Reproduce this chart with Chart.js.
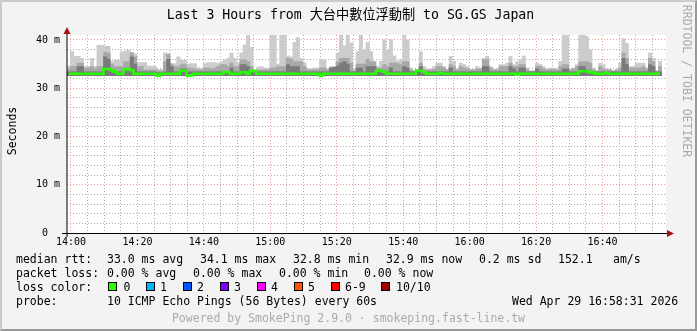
<!DOCTYPE html>
<html>
<head>
<meta charset="utf-8">
<script src="https://cdn.jsdelivr.net/npm/chart.js@4.4.1/dist/chart.umd.min.js"></script>
<style>
  body { margin: 0; background: #fff; }
  #frame {
    position: relative; width: 697px; height: 331px; overflow: hidden;
    background: #f3f3f3; box-sizing: border-box;
    border-top: 2px solid #cbcbcb; border-left: 2px solid #cbcbcb;
    border-right: 2px solid #999; border-bottom: 2px solid #999;
    font-family: "DejaVu Sans Mono", monospace; color: #000;
  }
  #chart { position: absolute; left: -2px; top: -2px; }
  .t { position: absolute; white-space: pre; font-size: 11.5px; line-height: 14px; }
  .box { position: absolute; width: 7px; height: 7px; border: 1px solid #000; }
</style>
</head>
<body>
<div id="frame">
  <canvas id="chart" width="697" height="331"></canvas>
  <div class="t" id="title" style="left:0;width:697px;text-align:center;top:5px;font-size:13.2px;line-height:16px;font-family:'DejaVu Sans Mono','Noto Sans CJK TC',monospace;">Last 3 Hours from 大台中數位浮動制 to SG.GS Japan</div>
  <div class="t" style="left:-22px;top:122px;width:64px;text-align:center;transform:rotate(-90deg);">Seconds</div>
  <div class="t" style="left:605px;top:72px;width:160px;text-align:center;transform:rotate(90deg);color:#aaa;">RRDTOOL / TOBI OETIKER</div>
  <div id="legend"></div>
</div>
<script>
// time axis: minutes after 14:00, one sample per minute
const firstMinute = -0.7;
const stepMinutes = 1;
const timeTickLabels = ['14:00', '14:20', '14:40', '15:00', '15:20', '15:40', '16:00', '16:20', '16:40'];
const yTickLabels = ['0  ', '10 m', '20 m', '30 m', '40 m'];

// ms, lowest ping of each minute
const pingFloor = 32.6;

// ms, top of the light smoke (slowest ping)
const smokeLight = [
  34.6, 37.6, 36.6, 36.6, 36.2, 34.5, 34.5, 36.2, 34.5, 38.9,
  38.9, 38.7, 38.7, 35.5, 35.8, 35.8, 37.5, 37.7, 37.9, 37.1,
  37.1, 35.3, 35.3, 35.3, 34.6, 34.6, 34.5, 33.9, 33.9, 37.3,
  37.2, 35.1, 35.1, 36.5, 35.8, 35.8, 35.0, 35.1, 35.1, 34.3,
  34.1, 35.1, 35.3, 35.3, 35.3, 35.2, 35.5, 35.9, 36.2, 37.3,
  36.2, 35.2, 37.3, 39.0, 41.2, 38.5, 33.8, 34.4, 34.5, 34.2,
  34.1, 41.2, 41.2, 35.0, 41.2, 41.2, 36.7, 36.5, 39.5, 40.5,
  36.2, 35.3, 34.0, 34.0, 34.2, 34.2, 36.0, 35.9, 34.0, 34.5,
  34.3, 37.3, 41.2, 38.8, 41.2, 39.4, 34.0, 37.6, 41.2, 38.0,
  39.5, 37.6, 35.6, 34.5, 35.6, 40.0, 38.0, 40.1, 36.7, 35.6,
  35.9, 41.2, 40.0, 34.2, 33.5, 33.5, 37.6, 34.5, 33.9, 34.0,
  34.5, 35.2, 35.2, 34.5, 33.9, 36.6, 35.6, 33.9, 35.2, 34.9,
  34.5, 33.9, 33.9, 34.5, 34.2, 36.2, 36.6, 34.5, 33.9, 34.0,
  34.9, 34.9, 35.2, 36.6, 34.9, 35.5, 36.0, 36.7, 34.2, 33.5,
  33.5, 35.2, 34.9, 34.5, 33.9, 34.2, 34.2, 33.9, 35.6, 41.2,
  41.2, 33.9, 34.2, 34.9, 41.2, 41.2, 40.7, 38.0, 34.2, 33.5,
  35.2, 34.9, 34.0, 33.9, 33.5, 33.9, 35.2, 40.3, 39.3, 34.5,
  34.5, 35.2, 35.2, 35.2, 34.2, 37.3, 36.2, 33.5, 35.6
];

// ms, top of the middle smoke band
const smokeMid = [
  33.9, 34.5, 34.5, 35.2, 35.2, 34.2, 34.2, 34.5, 34.0, 34.5,
  34.5, 37.5, 37.3, 35.0, 34.5, 34.5, 34.5, 35.5, 35.5, 37.4,
  36.5, 34.5, 34.5, 33.8, 33.8, 33.8, 33.8, 33.6, 33.6, 35.5,
  37.0, 35.0, 34.5, 34.5, 34.9, 34.9, 34.2, 34.2, 34.0, 33.9,
  33.8, 34.2, 34.2, 34.0, 34.2, 34.5, 34.9, 34.9, 34.5, 35.2,
  34.5, 34.5, 35.9, 35.9, 35.5, 34.5, 33.6, 33.8, 33.8, 33.8,
  33.8, 34.2, 34.2, 34.5, 34.5, 34.5, 36.2, 36.0, 35.5, 35.5,
  35.5, 34.5, 33.8, 33.8, 33.8, 33.8, 34.2, 34.2, 33.8, 34.2,
  34.2, 35.5, 36.2, 36.2, 36.2, 35.2, 33.6, 35.0, 35.0, 35.0,
  36.0, 35.5, 35.5, 34.2, 34.2, 34.9, 34.5, 35.2, 35.2, 35.2,
  34.9, 35.5, 35.5, 33.8, 33.6, 33.6, 35.2, 33.9, 33.8, 33.8,
  33.9, 34.5, 34.5, 34.2, 33.8, 34.9, 34.5, 33.8, 34.5, 34.2,
  34.0, 33.8, 33.8, 34.0, 34.0, 35.9, 35.9, 34.2, 33.8, 33.8,
  34.5, 34.5, 34.5, 35.2, 34.5, 34.5, 34.9, 34.9, 33.8, 33.6,
  33.6, 34.5, 34.5, 34.0, 33.8, 33.9, 33.9, 33.8, 34.5, 34.9,
  34.9, 33.8, 34.0, 34.5, 35.5, 35.5, 35.5, 35.2, 33.8, 33.6,
  34.5, 34.0, 33.8, 33.8, 33.6, 33.8, 34.2, 37.3, 36.2, 34.2,
  34.2, 34.2, 34.2, 34.5, 34.0, 36.2, 35.5, 33.6, 34.5
];

// ms, top of the dark smoke core
const smokeDark = [
  33.4, 33.4, 33.4, 34.5, 34.5, 33.4, 33.4, 33.4, 33.4, 33.4,
  33.4, 36.5, 36.0, 33.6, 33.4, 33.4, 33.4, 33.6, 33.6, 36.5,
  35.0, 33.4, 33.4, 33.4, 33.4, 33.4, 33.4, 33.3, 33.3, 33.4,
  36.0, 34.5, 33.4, 33.4, 34.0, 34.0, 33.4, 33.4, 33.4, 33.4,
  33.4, 33.4, 33.4, 33.4, 33.4, 33.4, 33.4, 33.5, 33.5, 34.2,
  33.4, 33.4, 34.9, 34.9, 34.5, 33.6, 33.4, 33.4, 33.4, 33.4,
  33.4, 33.4, 33.4, 33.4, 33.4, 33.4, 34.9, 34.5, 34.5, 34.5,
  33.4, 33.4, 33.4, 33.4, 33.4, 33.4, 33.4, 33.4, 33.4, 34.2,
  34.4, 34.6, 35.2, 35.5, 35.0, 33.4, 33.4, 34.2, 34.2, 33.4,
  34.5, 34.5, 34.5, 33.8, 33.8, 33.6, 33.4, 34.2, 33.4, 33.4,
  33.4, 34.5, 34.2, 33.4, 33.4, 33.8, 34.5, 33.5, 33.4, 33.4,
  33.4, 33.4, 33.5, 33.4, 33.4, 34.2, 33.4, 33.4, 33.4, 33.4,
  33.4, 33.4, 33.4, 33.4, 33.4, 34.5, 34.5, 33.4, 33.4, 33.4,
  33.4, 33.4, 33.4, 34.5, 34.0, 33.4, 34.2, 34.2, 33.4, 33.4,
  33.4, 34.0, 33.4, 33.4, 33.4, 33.4, 33.4, 33.4, 33.4, 34.0,
  34.0, 33.4, 33.4, 33.4, 34.5, 34.5, 33.8, 33.6, 33.4, 33.4,
  33.4, 33.4, 33.4, 33.4, 33.4, 33.4, 33.4, 36.2, 35.0, 33.4,
  33.4, 33.4, 33.4, 33.4, 33.4, 34.9, 34.5, 33.4, 33.4
];

// ms, median round trip of each minute
const medianRtt = [
  33.0, 33.0, 33.0, 33.0, 33.0, 33.0, 33.0, 33.0, 33.0, 33.0,
  33.0, 34.0, 34.0, 33.7, 33.4, 33.0, 33.0, 33.9, 34.0, 33.7,
  33.0, 33.0, 33.0, 33.0, 33.0, 33.0, 33.0, 32.6, 33.0, 33.0,
  33.0, 33.0, 33.0, 33.0, 33.6, 33.6, 32.6, 32.7, 33.0, 33.0,
  33.0, 33.0, 33.0, 33.0, 33.0, 33.0, 33.0, 33.3, 33.3, 33.0,
  33.0, 33.0, 33.3, 33.3, 33.0, 33.6, 33.5, 33.0, 33.0, 33.0,
  33.0, 33.0, 33.0, 33.0, 33.0, 33.0, 33.0, 33.0, 33.0, 33.0,
  33.0, 33.0, 33.0, 33.0, 33.0, 33.0, 32.6, 33.0, 33.0, 33.0,
  33.0, 33.0, 33.0, 33.0, 33.0, 33.0, 33.0, 33.0, 33.0, 33.0,
  33.0, 33.0, 33.0, 33.6, 33.6, 33.4, 33.0, 33.0, 33.0, 33.0,
  33.0, 33.0, 33.0, 33.0, 33.0, 33.6, 33.6, 33.3, 33.0, 33.0,
  33.0, 33.0, 33.2, 33.0, 33.0, 33.0, 33.0, 33.0, 33.0, 33.0,
  33.0, 33.0, 33.0, 33.0, 33.0, 33.0, 33.0, 33.0, 33.0, 33.0,
  33.0, 33.0, 33.0, 33.0, 33.0, 32.8, 33.0, 33.0, 33.0, 33.0,
  33.0, 33.0, 33.0, 33.0, 33.0, 33.0, 33.0, 33.0, 33.0, 33.0,
  33.0, 33.0, 33.0, 33.0, 33.5, 33.5, 33.5, 33.3, 33.2, 33.0,
  33.0, 33.0, 33.2, 33.0, 33.0, 33.0, 33.0, 33.0, 33.0, 33.0,
  33.0, 33.0, 33.0, 33.0, 33.0, 33.0, 33.0, 33.0, 33.0
];

const lossColors = ['#26ff00', '#00b8ff', '#0059ff', '#7e00ff', '#ff00ff', '#ff5500', '#ff0000', '#a10000'];
const lossLabels = ['0', '1', '2', '3', '4', '5', '6-9', '10/10'];

const majorGrid = 'rgba(235, 90, 90, 0.6)';
const minorGrid = 'rgba(140, 140, 140, 0.7)';
const tickFont = { family: "'DejaVu Sans Mono', monospace", size: 10 };

const sampleX = smokeLight.map((_, i) => firstMinute + i * stepMinutes);
const floatBars = tops => tops.map((v, i) => ({ x: sampleX[i], y: [pingFloor, v] }));

function smokeSet(label, tops, color, order) {
  return {
    type: 'bar', label, data: floatBars(tops), backgroundColor: color,
    borderWidth: 0, grouped: false, barPercentage: 1, categoryPercentage: 1, order
  };
}

// white plot area, axis lines and the red arrows
const rrdFrame = {
  id: 'rrdFrame',
  beforeDraw(chart) {
    const { ctx, chartArea: a } = chart;
    ctx.save();
    ctx.fillStyle = '#fff';
    ctx.fillRect(a.left, a.top, a.right - a.left, a.bottom - a.top);
    ctx.restore();
  },
  afterDraw(chart) {
    const { ctx, chartArea: a } = chart;
    ctx.save();
    ctx.strokeStyle = '#000';
    ctx.lineWidth = 1;
    ctx.beginPath();
    ctx.moveTo(a.left, a.bottom + 4);
    ctx.lineTo(a.left, a.top - 3);
    ctx.stroke();
    ctx.beginPath();
    ctx.moveTo(a.left - 5, a.bottom + 0.5);
    ctx.lineTo(a.right + 2, a.bottom + 0.5);
    ctx.stroke();
    ctx.fillStyle = '#a11';
    ctx.beginPath();
    ctx.moveTo(a.left, a.top - 8);
    ctx.lineTo(a.left - 3.5, a.top - 1);
    ctx.lineTo(a.left + 3.5, a.top - 1);
    ctx.closePath();
    ctx.fill();
    ctx.beginPath();
    ctx.moveTo(a.right + 8, a.bottom + 0.5);
    ctx.lineTo(a.right + 1, a.bottom - 3);
    ctx.lineTo(a.right + 1, a.bottom + 4);
    ctx.closePath();
    ctx.fill();
    ctx.restore();
  }
};

new Chart(document.getElementById('chart'), {
  type: 'bar',
  data: {
    datasets: [
      {
        type: 'line', label: 'median rtt',
        data: medianRtt.map((v, i) => ({ x: sampleX[i], y: v })),
        borderColor: '#26ff00', borderWidth: 2.5, pointRadius: 0,
        stepped: 'middle', fill: false, order: 0
      },
      smokeSet('dark', smokeDark, '#7a7a7a', 1),
      smokeSet('mid', smokeMid, '#a8a8a8', 2),
      smokeSet('light', smokeLight, '#cccccc', 3)
    ]
  },
  options: {
    responsive: false,
    animation: false,
    devicePixelRatio: 1,
    layout: { padding: { top: 35, right: 31, left: 2, bottom: 0 } },
    plugins: { legend: { display: false }, tooltip: { enabled: false } },
    scales: {
      x: {
        type: 'linear', offset: false, min: -1.2, max: 179.1, z: 1,
        afterFit: s => { s.height = 98; },
        afterBuildTicks: s => {
          const ticks = [];
          for (let m = 0; m <= 175; m += 5) ticks.push({ value: m });
          s.ticks = ticks;
        },
        grid: {
          offset: false, drawTicks: false, lineWidth: 1,
          color: c => (c.tick && c.tick.value % 20 === 0 ? majorGrid : minorGrid)
        },
        border: { display: false, dash: [1, 2] },
        ticks: {
          autoSkip: false, maxRotation: 0, padding: 3, color: '#000', font: tickFont,
          callback: v => (v % 20 === 0 ? timeTickLabels[v / 20] : '')
        }
      },
      y: {
        min: 0, max: 41.03, z: 1,
        afterFit: s => { s.width = 65; },
        afterBuildTicks: s => {
          const ticks = [];
          for (let v = 0; v <= 40; v += 2) ticks.push({ value: v });
          s.ticks = ticks;
        },
        grid: {
          drawTicks: false, lineWidth: 1,
          color: c => (c.tick && c.tick.value % 10 === 0 ? majorGrid : minorGrid)
        },
        border: { display: false, dash: [1, 2] },
        ticks: {
          autoSkip: false, padding: 7, color: '#000', font: tickFont,
          callback: v => (v % 10 === 0 ? yTickLabels[v / 10] : '')
        }
      }
    }
  },
  plugins: [rrdFrame]
});

// legend rows under the graph (frame border shifts content by 2px)
const legend = document.getElementById('legend');
function text(x, y, s, extra) {
  const d = document.createElement('div');
  d.className = 't';
  d.style.left = (x - 2) + 'px';
  d.style.top = (y - 9) + 'px';
  if (extra) Object.assign(d.style, extra);
  d.textContent = s;
  legend.appendChild(d);
}
text(16, 259, 'median rtt:');
text(107, 259, '33.0 ms avg');
text(200, 259, '34.1 ms max');
text(293, 259, '32.8 ms min');
text(386, 259, '32.9 ms now');
text(479, 259, '0.2 ms sd');
text(558, 259, '152.1');
text(613, 259, 'am/s');
text(16, 273, 'packet loss:');
text(107, 273, '0.00 % avg');
text(193, 273, '0.00 % max');
text(279, 273, '0.00 % min');
text(364, 273, '0.00 % now');
text(16, 287, 'loss color:');
const boxX = [108, 145.5, 182.5, 219.5, 256.5, 293.5, 330.5, 381];
const labelX = [123.5, 160, 197, 234, 271, 308, 345, 396];
lossColors.forEach((c, i) => {
  const b = document.createElement('div');
  b.className = 'box';
  b.style.left = (boxX[i] - 2) + 'px';
  b.style.top = (282 - 2) + 'px';
  b.style.background = c;
  legend.appendChild(b);
  text(labelX[i], 287, lossLabels[i]);
});
text(16, 301, 'probe:');
text(107, 301, '10 ICMP Echo Pings (56 Bytes) every 60s');
text(512, 301, 'Wed Apr 29 16:58:31 2026');
text(0, 318, 'Powered by SmokePing 2.9.0 · smokeping.fast-line.tw',
  { width: '697px', textAlign: 'center', color: '#aaa' });
</script>
</body>
</html>
